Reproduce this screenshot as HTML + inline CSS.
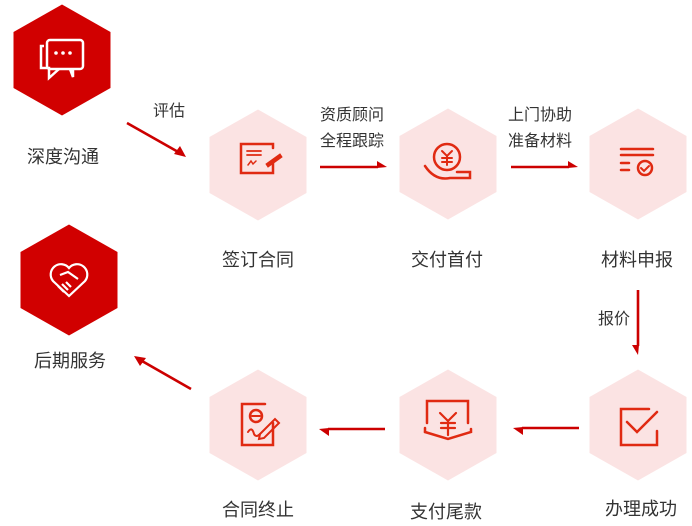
<!DOCTYPE html>
<html><head><meta charset="utf-8"><style>
html,body{margin:0;padding:0;background:#fff;}
svg{display:block;}
text{font-family:"Liberation Sans","Noto Sans CJK SC",sans-serif;fill:#333;}
</style></head><body>
<svg width="692" height="526" viewBox="0 0 692 526" xmlns="http://www.w3.org/2000/svg">
<defs>
<polygon id="hx" points="0,-55.5 48.5,-28 48.5,28 0,55.5 -48.5,28 -48.5,-28"/>
</defs>
<use href="#hx" x="62" y="60" fill="#d10000"/>
<use href="#hx" x="69" y="280" fill="#d10000"/>
<use href="#hx" x="258" y="165" fill="#fbe3e3"/>
<use href="#hx" x="448" y="164" fill="#fbe3e3"/>
<use href="#hx" x="638" y="164" fill="#fbe3e3"/>
<use href="#hx" x="258" y="425" fill="#fbe3e3"/>
<use href="#hx" x="448" y="425" fill="#fbe3e3"/>
<use href="#hx" x="638" y="425" fill="#fbe3e3"/>

<g fill="none" stroke="#fff" stroke-width="2.5">
  <rect x="47" y="40" width="36" height="29" rx="3" fill="#d10000"/>
  <path d="M44,46 h-3 v22 h8 v10 l10,-9"/>
  <path d="M70,69 l3,8 l0,-8"/>
</g>
<g fill="#fff"><circle cx="56" cy="53" r="1.8"/><circle cx="63" cy="53" r="1.8"/><circle cx="70" cy="53" r="1.8"/></g>
<g fill="none" stroke="#fff" stroke-width="2.2">
  <path d="M69,296 L53,281 A9,9 0 0 1 69,268 A9,9 0 0 1 85,281 Z"/>
  <path d="M60,275 l8,-3 l10,7 M58,286 l6,6 M62,284 l6,6 M66,282 l5,5"/>
</g>
<g fill="none" stroke="#e02a12" stroke-width="2.5" stroke-linecap="round">
  <path d="M273,162 v11 h-32 v-29 h32 v4"/>
  <path d="M247,151 h14 M247,155 h14" stroke-width="1.8"/>
  <path d="M248,165 l3,-4 l2,3 l3,-3" stroke-width="1.5"/>
  <path d="M266,164 l14,-10 l2,3 l-14,10 z" fill="#e02a12" stroke-width="1"/>
  <circle cx="447" cy="157" r="13"/>
  <path d="M442,151 l5,5 l5,-5 M447,156 v9 M442,158 h10 M442,162 h10" stroke-width="2"/>
  <path d="M425,166 q10,15 25,12 h20 v-6 h-13"/>
  <path d="M621,149 h32 M621,155 h32 M621,163 h8 M621,170 h8"/>
  <circle cx="645" cy="168" r="7"/>
  <path d="M641,168 l3,3 l5,-5" stroke-width="2"/>
  <path d="M649,409 h-28 v36 h36 v-14"/>
  <path d="M627,422 l10,10 l20,-20"/>
  <path d="M427,423 v-22 h41 v22 M425,432 l23,7 l23,-7 v-3" />
  <path d="M425,432 v-4"/>
  <path d="M440,413 l8,8 l8,-8 M448,421 v14 M441,423 h14 M441,428 h14" stroke-width="2.2"/>
  <path d="M265,404 h-23 v41 h31 v-22"/>
  <circle cx="256" cy="416" r="6"/>
  <path d="M252,416 h8" stroke-width="2"/>
  <path d="M260,434 l15,-15 l4,4 l-15,15 l-5,1 z" stroke-width="2"/>
  <path d="M248,432 q4,-6 6,2 q2,4 6,0" stroke-width="2"/>
</g>

<g stroke="#cc0000" stroke-width="2.6" fill="#cc0000">
  <line x1="127" y1="123" x2="180" y2="153"/>
  <polygon points="186,157 174,154 180,146" stroke="none"/>
  <line x1="320" y1="167" x2="378" y2="167"/>
  <polygon points="387,167 377,161 377,168" stroke="none"/>
  <line x1="511" y1="167" x2="569" y2="167"/>
  <polygon points="578,167 568,161 568,168" stroke="none"/>
  <line x1="638" y1="290" x2="638" y2="346"/>
  <polygon points="638,355 632,345 639,345" stroke="none"/>
  <line x1="385" y1="429" x2="328" y2="429"/>
  <polygon points="319,429 329,428 329,436" stroke="none"/>
  <line x1="579" y1="428" x2="522" y2="428"/>
  <polygon points="513,428 523,427 523,435" stroke="none"/>
  <line x1="191" y1="389" x2="142" y2="361"/>
  <polygon points="134,356 146,358 140,366" stroke="none"/>
</g>

<g font-size="18" text-anchor="middle">
  <text x="63" y="163">深度沟通</text>
  <text x="258" y="266">签订合同</text>
  <text x="447" y="266">交付首付</text>
  <text x="637" y="266">材料申报</text>
  <text x="70" y="367">后期服务</text>
  <text x="258" y="516">合同终止</text>
  <text x="446" y="518">支付尾款</text>
  <text x="641" y="515">办理成功</text>
</g>
<g font-size="16" text-anchor="middle">
  <text x="169" y="116">评估</text>
  <text x="352" y="120">资质顾问</text>
  <text x="352" y="146">全程跟踪</text>
  <text x="540" y="120">上门协助</text>
  <text x="540" y="146">准备材料</text>
  <text x="614" y="324">报价</text>
</g>
</svg>
</body></html>
